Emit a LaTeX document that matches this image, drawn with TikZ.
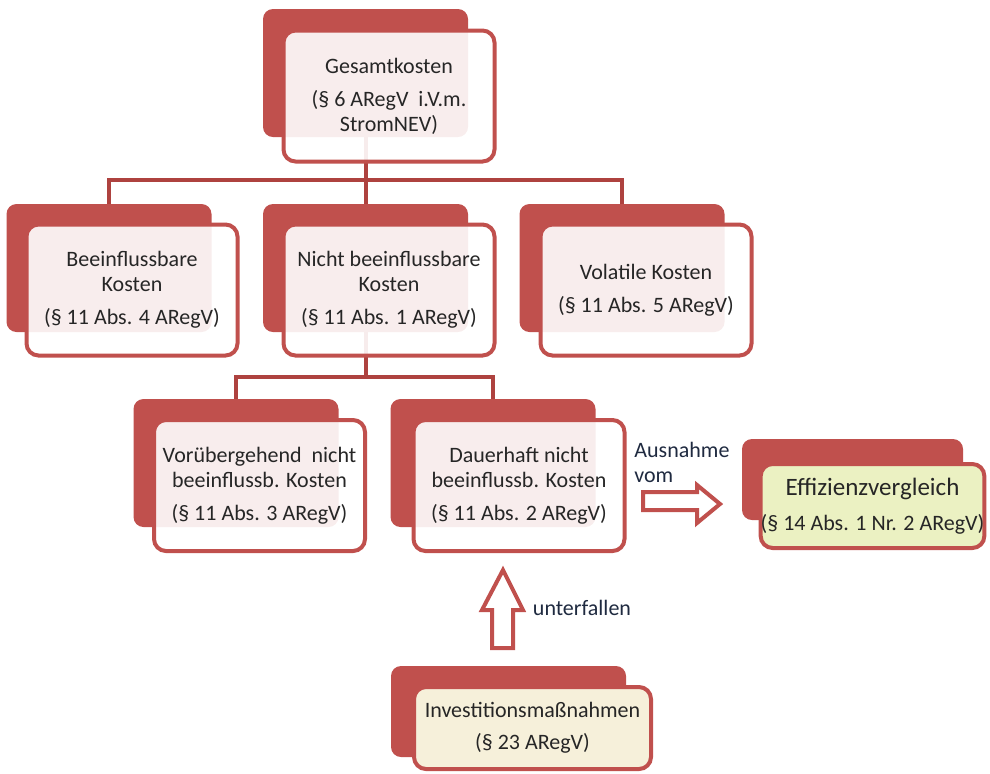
\documentclass[tikz,border=0pt]{standalone}
\usepackage{fontspec}
\setmainfont{Carlito}
\definecolor{boxred}{HTML}{C0504D}
\definecolor{linered}{HTML}{AE423F}
\definecolor{effgreen}{HTML}{EBF1C2}
\definecolor{investcream}{HTML}{F6F0DA}
\definecolor{textgray}{HTML}{262626}
\definecolor{labelnavy}{HTML}{1F2A40}

\begin{document}
\begin{tikzpicture}[x=0.5pt, y=-0.5pt,
        backbox/.style={rectangle, rounded corners=5pt, fill=boxred, inner sep=0pt,
            minimum width=102.5pt, minimum height=64pt},
        frontbox/.style={rectangle, rounded corners=6pt, draw=boxred, line width=2pt,
            fill=white, fill opacity=0.9, text opacity=1, text=textgray, align=center,
            font=\fontsize{11}{12.5}\selectfont, inner sep=0pt,
            minimum width=105.5pt, minimum height=65.5pt},
        link/.style={draw=linered, line width=2pt},
        hollow/.style={draw=boxred, line width=2pt, fill=white},
        labeltext/.style={text=labelnavy, font=\fontsize{11}{12.5}\selectfont, inner sep=0pt}]
    \useasboundingbox (0, 0) rectangle (990, 773);

    % back plates
    \node [backbox] (gesB) at (365.5, 73) {};
    \node [backbox] (beinB) at (109, 268) {};
    \node [backbox] (nichtB) at (365.5, 268) {};
    \node [backbox] (volB) at (622, 268) {};
    \node [backbox] (vorB) at (236, 463) {};
    \node [backbox] (dauB) at (493, 463) {};
    \node [backbox, minimum width=110.5pt, minimum height=40.5pt] (effB) at (852.5, 479.5) {};
    \node [backbox, minimum width=117.5pt, minimum height=45.5pt] (invB) at (508.5, 711.5) {};

    % tree lines
    \draw [link] (gesB.south) -- ++(0, 43) coordinate (split1);
    \draw [link] (split1) -| (beinB.north);
    \draw [link] (split1) -| (volB.north);
    \draw [link] (split1) -- (nichtB.north);
    \draw [link] (nichtB.south) -- ++(0, 45) coordinate (split2);
    \draw [link] (split2) -| (vorB.north);
    \draw [link] (split2) -| (dauB.north);

    % front boxes
    \node [frontbox] (ges) at (389, 96) {Gesamtkosten\\[4pt](§ 6 ARegV\ \ i.V.m.\\StromNEV)};
    \node [frontbox] (bein) at (132, 290) {Beeinflussbare\\Kosten\\[4pt](§ 11 Abs. 4 ARegV)};
    \node [frontbox] (nicht) at (389, 290) {Nicht beeinflussbare\\Kosten\\[4pt](§ 11 Abs. 1 ARegV)};
    \node [frontbox] (vol) at (646, 290) {Volatile Kosten\\[4pt](§ 11 Abs. 5 ARegV)};
    \node [frontbox] (vor) at (259.5, 485.5) {Vorübergehend\ \ nicht\\beeinflussb. Kosten\\[4pt](§ 11 Abs. 3 ARegV)};
    \node [frontbox] (dau) at (519, 485.5) {Dauerhaft nicht\\beeinflussb. Kosten\\[4pt](§ 11 Abs. 2 ARegV)};
    \node [frontbox, fill=effgreen, fill opacity=1, minimum width=108.5pt, minimum height=42pt] (eff)
        at (872.5, 506) {{\fontsize{12.5}{15}\selectfont Effizienzvergleich}\\[5pt](§ 14 Abs. 1 Nr. 2 ARegV)};
    \node [frontbox, fill=investcream, fill opacity=1, minimum width=118.5pt, minimum height=41pt] (inv)
        at (532.5, 728) {Investitionsmaßnahmen\\[3.5pt](§ 23 ARegV)};

    % block arrows
    \draw [hollow] (643, 492) -- (697, 492) -- (697, 485) -- (720, 504) -- (697, 523)
        -- (697, 510) -- (643, 510) -- cycle;
    \draw [hollow] (492, 648) -- (492, 610) -- (482, 610) -- (503, 570) -- (523, 610)
        -- (513, 610) -- (513, 648) -- cycle;
    \node [labeltext, anchor=west, align=left] (ausnahme) at (634, 462) {Ausnahme\\vom};
    \node [labeltext] (unterfallen) at (582, 608) {unterfallen};
\end{tikzpicture}
\end{document}
